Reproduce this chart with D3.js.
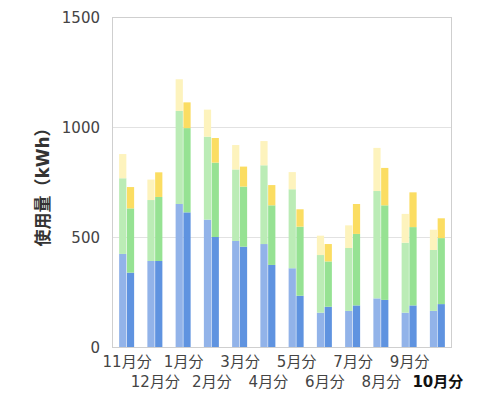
<!DOCTYPE html>
<html>
<head>
<meta charset="utf-8">
<script src="https://cdn.jsdelivr.net/npm/d3@7"></script>
<style>
  body { margin: 0; background: #fff; }
  svg { display: block; font-family: "DejaVu Sans", "Noto Sans CJK JP", sans-serif; }
</style>
</head>
<body>
<div id="chart"></div>
<script>
// months and y ticks
const months = ["11月分", "12月分", "1月分", "2月分", "3月分", "4月分", "5月分", "6月分", "7月分", "8月分", "9月分", "10月分"];
const yTicks = [0, 500, 1000, 1500];

// segment values per month (previous year / current year)
const prevBlue   = [423, 391, 650, 579, 482, 468, 358, 156, 164, 221, 156, 164];
const prevGreen  = [344, 277, 423, 377, 325, 358, 359, 262, 286, 488, 318, 277];
const prevYellow = [110,  93, 144, 123, 111, 110,  78,  88, 103, 196, 131,  92];
const currBlue   = [338, 391, 612, 500, 456, 373, 233, 183, 189, 214, 189, 195];
const currGreen  = [292, 291, 383, 338, 273, 271, 314, 206, 325, 430, 356, 300];
const currYellow = [ 97, 112, 117, 112,  91,  92,  79,  79, 136, 170, 158,  90];

const colors = {
    prev: ["#92b3e9", "#bbecb6", "#fdf3bd"],
    curr: ["#5f93e0", "#96e293", "#fbdd62"]
};

const width = 480, height = 395;
const plotLeft = 112, plotRight = 451, plotTop = 17, plotBottom = 347;

const svg = d3.select("#chart")
    .append("svg")
    .attr("width", width)
    .attr("height", height);

const y = d3.scaleLinear().domain([0, 1500]).range([plotBottom, plotTop]);
const x0 = d3.scaleBand().domain(months).range([plotLeft, plotRight]);
const x1 = d3.scaleBand().domain(["prev", "curr"])
    .range([x0.bandwidth() / 2 - 7, x0.bandwidth() / 2 + 8])
    .paddingInner(0.07);

// gridlines
svg.append("g")
    .selectAll("line")
    .data(yTicks.slice(1, 3))
    .enter()
    .append("line")
    .attr("x1", plotLeft).attr("x2", plotRight)
    .attr("y1", d => y(d) + 0.5).attr("y2", d => y(d) + 0.5)
    .attr("stroke", "#e2e2e2");

// frame
svg.append("rect")
    .attr("x", plotLeft + 0.5).attr("y", plotTop + 0.5)
    .attr("width", plotRight - plotLeft).attr("height", plotBottom - plotTop)
    .attr("fill", "none")
    .attr("stroke", "#cfcfcf");

// stacked bars
const series = {
    prev: [prevBlue, prevGreen, prevYellow],
    curr: [currBlue, currGreen, currYellow]
};

["prev", "curr"].forEach(key => {
    const rows = months.map((m, i) => ({ month: m, a: series[key][0][i], b: series[key][1][i], c: series[key][2][i] }));
    const stacked = d3.stack().keys(["a", "b", "c"])(rows);
    svg.append("g")
        .selectAll("g")
        .data(stacked)
        .enter()
        .append("g")
        .attr("fill", (d, i) => colors[key][i])
        .selectAll("rect")
        .data(d => d)
        .enter()
        .append("rect")
        .attr("x", d => x0(d.data.month) + x1(key))
        .attr("y", d => y(d[1]))
        .attr("width", x1.bandwidth())
        .attr("height", d => y(d[0]) - y(d[1]));
});

// y axis labels
svg.append("g")
    .selectAll("text")
    .data(yTicks)
    .enter()
    .append("text")
    .attr("x", 100)
    .attr("y", d => y(d) + 6)
    .attr("text-anchor", "end")
    .style("font-size", "15px")
    .attr("fill", "#444")
    .text(d => d);

// y axis title
svg.append("text")
    .attr("transform", "translate(49,183) rotate(-90)")
    .attr("text-anchor", "middle")
    .style("font-size", "17px")
    .style("font-weight", "bold")
    .attr("fill", "#333")
    .text("使用量（kWh）");

// x labels, two staggered rows
svg.append("g")
    .selectAll("text")
    .data(months)
    .enter()
    .append("text")
    .attr("x", d => x0(d) + x0.bandwidth() / 2 + 1)
    .attr("y", (d, i) => i % 2 === 0 ? 367 : 387)
    .attr("text-anchor", "middle")
    .style("font-size", "15px")
    .style("font-weight", (d, i) => i === months.length - 1 ? "bold" : "normal")
    .attr("fill", (d, i) => i === months.length - 1 ? "#111" : "#444")
    .text(d => d);
</script>
</body>
</html>
